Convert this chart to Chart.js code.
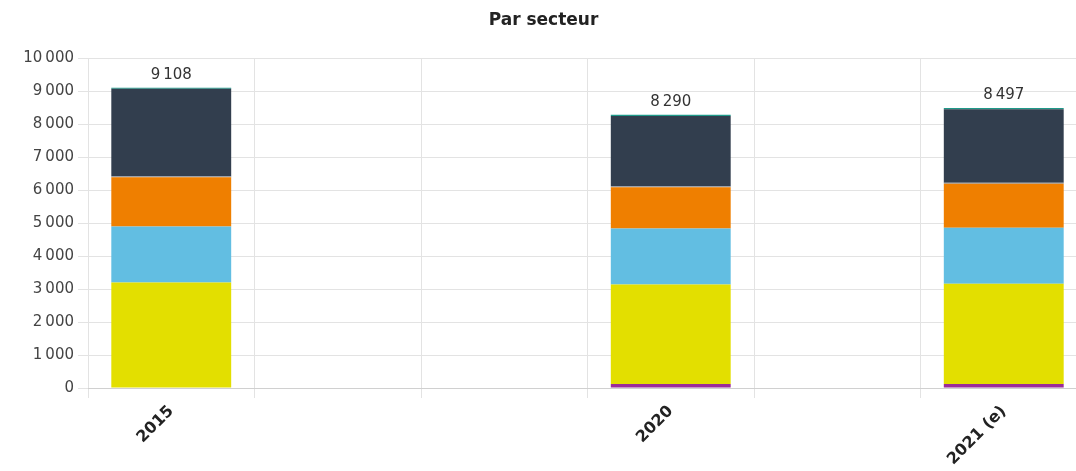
<!DOCTYPE html>
<html>
<head>
<meta charset="utf-8">
<script src="https://cdn.jsdelivr.net/npm/chart.js@4.4.1/dist/chart.umd.min.js"></script>
<style>
html,body{margin:0;padding:0;background:#fff;overflow:hidden;}
#wrap{width:1087px;height:471px;position:relative;}
</style>
</head>
<body>
<div id="wrap"><canvas id="c"></canvas></div>
<script>
const categories = ['2015', '', '', '2020', '', '2021 (e)'];
const purple   = [15,   null, null, 120,  null, 120];
const yellow   = [3185, null, null, 3020, null, 3040];
const lightBlue= [1703, null, null, 1700, null, 1700];
const orange   = [1490, null, null, 1250, null, 1340];
const grey     = [30,   null, null, 30,   null, 30];
const navy     = [2655, null, null, 2130, null, 2230];
const teal     = [30,   null, null, 40,   null, 37];
const totals   = [9108, null, null, 8290, null, 8497];
const yTicks   = [0, 1000, 2000, 3000, 4000, 5000, 6000, 7000, 8000, 9000, 10000];

const FONT = "'DejaVu Sans', 'Open Sans', sans-serif";
function fmt(v){ return String(v).replace(/\B(?=(\d{3})+(?!\d))/g, '\u202F'); }

const totalPlugin = {
  id: 'totals',
  afterDatasetsDraw(chart){
    const ctx = chart.ctx, x = chart.scales.x, y = chart.scales.y;
    ctx.save();
    ctx.font = "15px " + FONT;
    ctx.fillStyle = '#333';
    ctx.textAlign = 'center';
    ctx.textBaseline = 'bottom';
    totals.forEach((t, i) => {
      if (t == null) return;
      ctx.fillText(fmt(t), x.getPixelForValue(i), y.getPixelForValue(t) - 5);
    });
    ctx.restore();
  }
};

const mk = (data, color) => ({data, backgroundColor: color, borderWidth: 0, categoryPercentage: 1, barPercentage: 0.72});

new Chart(document.getElementById('c'), {
  type: 'bar',
  data: {
    labels: categories,
    datasets: [
      mk(purple, '#9a2d99'),
      mk(yellow, '#e3df00'),
      mk(lightBlue, '#62bee2'),
      mk(orange, '#ef7f00'),
      mk(grey, '#8f959c'),
      mk(navy, '#323e4e'),
      mk(teal, '#1f9a8a')
    ]
  },
  options: {
    responsive: true,
    maintainAspectRatio: false,
    animation: false,
    layout: {padding: {left: 0, right: 0, top: 0, bottom: 0}},
    plugins: {
      legend: {display: false},
      tooltip: {enabled: false},
      title: {
        display: true,
        text: 'Par secteur',
        color: '#222',
        font: {family: FONT, size: 17, weight: 'bold'},
        padding: {top: 10, bottom: 28}
      }
    },
    scales: {
      x: {
        stacked: true,
        grid: {color: '#e3e3e3', offset: true, tickLength: 10, drawTicks: true},
        border: {color: '#d0d0d0'},
        ticks: {
          color: '#222',
          font: {family: FONT, size: 16, weight: 'bold'},
          maxRotation: 45, minRotation: 45, autoSkip: false, padding: 4
        },
        afterFit(s){ s.height = 83; }
      },
      y: {
        stacked: true,
        min: 0, max: 10000,
        afterBuildTicks(s){ s.ticks = yTicks.map(v => ({value: v})); },
        grid: {color: '#e3e3e3', tickLength: 10},
        border: {display: false},
        ticks: {
          color: '#444',
          font: {family: FONT, size: 15},
          padding: 4,
          callback: v => fmt(v)
        },
        afterFit(s){ s.width = 88; }
      }
    }
  },
  plugins: [totalPlugin]
});
</script>
</body>
</html>
